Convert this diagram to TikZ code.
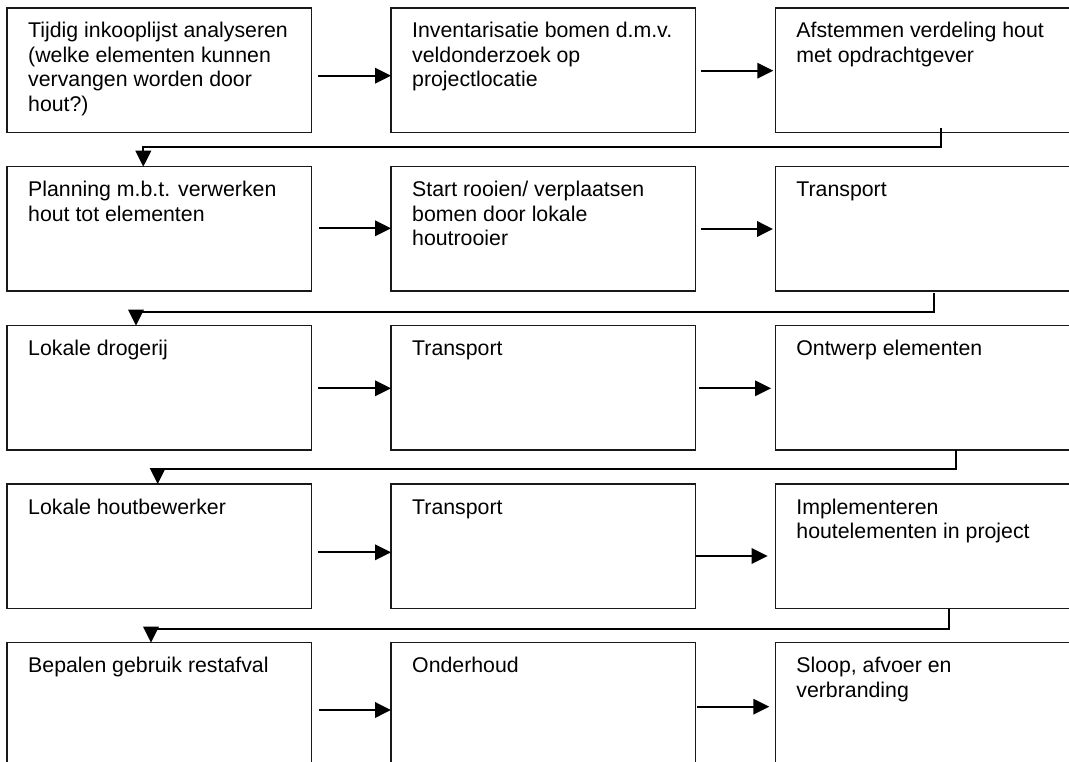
\documentclass[tikz,border=0pt]{standalone}
\usepackage{fontspec}
\setmainfont{Liberation Sans}
\usetikzlibrary{arrows.meta}
\newcommand\tlines[1]{\vtop{#1}}
\begin{document}
\begin{tikzpicture}[x=1pt,y=-1pt,
  stepbox/.style={draw=black!90, line width=1.1pt, rectangle, minimum width=304.5pt,
    minimum height=124.3pt, inner sep=0pt, outer sep=0pt, anchor=north west},
  boxtext/.style={anchor=base west, inner sep=0pt, font=\fontsize{21.3}{24.5}\selectfont},
  link/.style={line width=1.9pt, -{Triangle[length=16pt,width=15.5pt]}}]
\useasboundingbox (0,0) rectangle (1069,762);
% boxes
\node[stepbox] (b11) at (7,8) {};
\node[stepbox] (b12) at (391,8) {};
\node[stepbox] (b13) at (775.7,8) {};
\node[stepbox] (b21) at (7,166.7) {};
\node[stepbox] (b22) at (391,166.7) {};
\node[stepbox] (b23) at (775.7,166.7) {};
\node[stepbox] (b31) at (7,325.7) {};
\node[stepbox] (b32) at (391,325.7) {};
\node[stepbox] (b33) at (775.7,325.7) {};
\node[stepbox] (b41) at (7,484) {};
\node[stepbox] (b42) at (391,484) {};
\node[stepbox] (b43) at (775.7,484) {};
\node[stepbox] (b51) at (7,642.7) {};
\node[stepbox] (b52) at (391,642.7) {};
\node[stepbox] (b53) at (775.7,642.7) {};
% texts
\node[boxtext] (t11) at ([xshift=21pt,yshift=-30pt]b11.north west) {\tlines{\hbox{Tijdig inkooplijst analyseren}\hbox{(welke elementen kunnen}\hbox{vervangen worden door}\hbox{hout?)}}};
\node[boxtext] (t12) at ([xshift=21pt,yshift=-30pt]b12.north west) {\tlines{\hbox{Inventarisatie bomen d.m.v.}\hbox{veldonderzoek op}\hbox{projectlocatie}}};
\node[boxtext] (t13) at ([xshift=20.5pt,yshift=-30pt]b13.north west) {\tlines{\hbox{Afstemmen verdeling hout}\hbox{met opdrachtgever}}};
\node[boxtext] (t21) at ([xshift=21pt,yshift=-30pt]b21.north west) {\tlines{\hbox{Planning m.b.t. verwerken}\hbox{hout tot elementen}}};
\node[boxtext] (t22) at ([xshift=21pt,yshift=-30pt]b22.north west) {\tlines{\hbox{Start rooien/ verplaatsen}\hbox{bomen door lokale}\hbox{houtrooier}}};
\node[boxtext] (t23) at ([xshift=20.5pt,yshift=-30pt]b23.north west) {Transport};
\node[boxtext] (t31) at ([xshift=21pt,yshift=-30pt]b31.north west) {Lokale drogerij};
\node[boxtext] (t32) at ([xshift=21pt,yshift=-30pt]b32.north west) {Transport};
\node[boxtext] (t33) at ([xshift=20.5pt,yshift=-30pt]b33.north west) {Ontwerp elementen};
\node[boxtext] (t41) at ([xshift=21pt,yshift=-30pt]b41.north west) {Lokale houtbewerker};
\node[boxtext] (t42) at ([xshift=21pt,yshift=-30pt]b42.north west) {Transport};
\node[boxtext] (t43) at ([xshift=20.5pt,yshift=-30pt]b43.north west) {\tlines{\hbox{Implementeren}\hbox{houtelementen in project}}};
\node[boxtext] (t51) at ([xshift=21pt,yshift=-30pt]b51.north west) {Bepalen gebruik restafval};
\node[boxtext] (t52) at ([xshift=21pt,yshift=-30pt]b52.north west) {Onderhoud};
\node[boxtext] (t53) at ([xshift=20.5pt,yshift=-30pt]b53.north west) {\tlines{\hbox{Sloop, afvoer en}\hbox{verbranding}}};
% horizontal arrow starts
\coordinate (a11) at (318,75.7);
\coordinate (a12) at (701,70.7);
\coordinate (a21) at (318.7,228.3);
\coordinate (a22) at (701,229);
\coordinate (a31) at (318,388.3);
\coordinate (a32) at (699,388.3);
\coordinate (a41) at (318,552.3);
\coordinate (a42) at (695.5,556);
\coordinate (a51) at (318.7,710);
\coordinate (a52) at (696.7,706.7);
\draw[link] (a11) -- (a11 -| b12.west);
\draw[link, shorten >=2.4pt] (a12) -- (a12 -| b13.west);
\draw[link] (a21) -- (a21 -| b22.west);
\draw[link, shorten >=2.7pt] (a22) -- (a22 -| b23.west);
\draw[link] (a31) -- (a31 -| b32.west);
\draw[link, shorten >=4.7pt] (a32) -- (a32 -| b33.west);
\draw[link] (a41) -- (a41 -| b42.west);
\draw[link, shorten >=8pt] (a42) -- (a42 -| b43.west);
\draw[link] (a51) -- (a51 -| b52.west);
\draw[link, shorten >=6.4pt] (a52) -- (a52 -| b53.west);
% row-to-row connectors
\coordinate (c1) at (941,127.7);
\coordinate (c2) at (934,292.7);
\coordinate (c3) at (955.7,450);
\coordinate (c4) at (949,608.7);
\draw[link] (c1) -- ++(0,19) -| ([xshift=136.3pt]b21.north west);
\draw[link] (c2) -- ++(0,19.6) -| ([xshift=129pt]b31.north west);
\draw[link] (c3) -- ++(0,19.3) -| ([xshift=150.7pt]b41.north west);
\draw[link] (c4) -- ++(0,20.3) -| ([xshift=144pt]b51.north west);
\end{tikzpicture}
\end{document}
